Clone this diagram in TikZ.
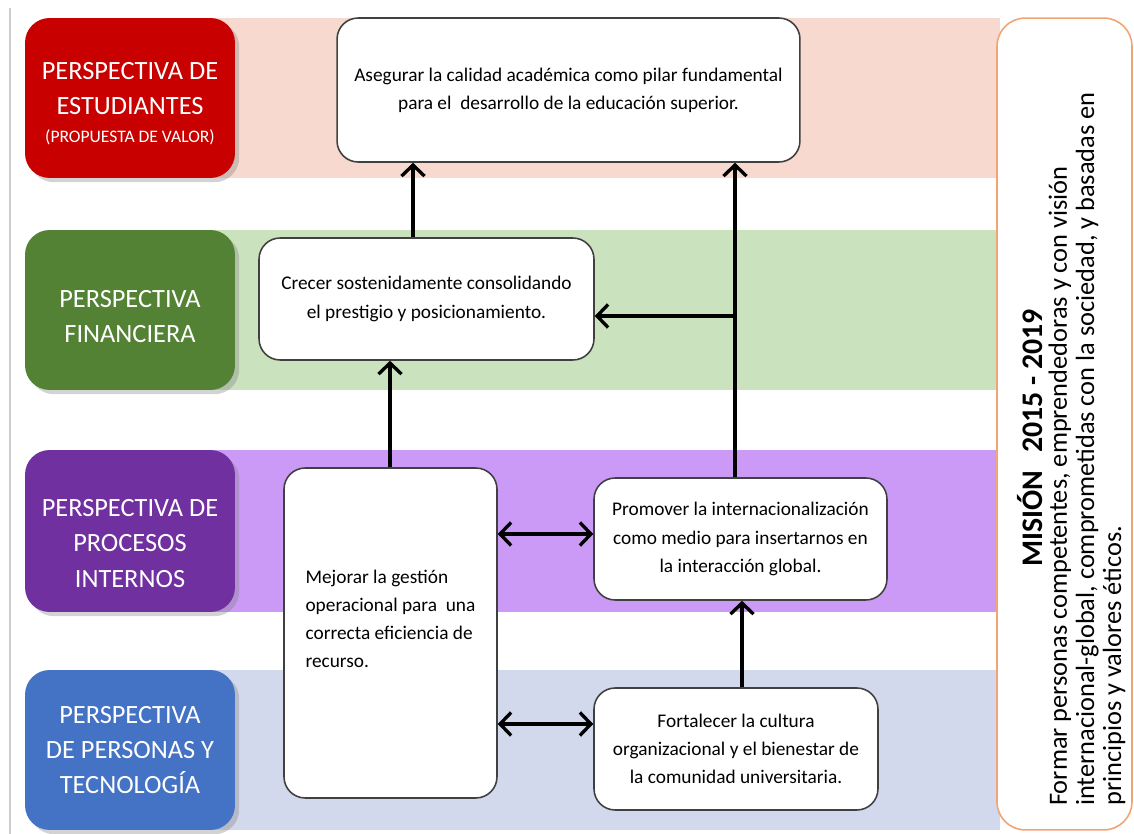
\documentclass[tikz,border=0pt]{standalone}
\usepackage{fontspec}
\setmainfont{Carlito}
\usetikzlibrary{shapes.geometric, arrows.meta, shadows}

\definecolor{estred}{HTML}{C80000}
\definecolor{estgreen}{HTML}{548235}
\definecolor{estpurple}{HTML}{7030A0}
\definecolor{estblue}{HTML}{4472C4}
\definecolor{bandred}{HTML}{F8D9CF}
\definecolor{bandgreen}{HTML}{CAE2BD}
\definecolor{bandpurple}{HTML}{CB9AF7}
\definecolor{bandblue}{HTML}{D3D9EC}
\definecolor{misionline}{HTML}{F2A472}

\tikzstyle{perspective} = [
    rectangle,
    rounded corners=14pt,
    minimum width=4.2cm,
    minimum height=3.2cm,
    text=white,
    align=center,
    font=\fontsize{15}{20}\selectfont,
    drop shadow={opacity=0.35}
]
\tikzstyle{objective} = [
    rectangle,
    rounded corners=12pt,
    draw=black!75,
    fill=white,
    line width=0.9pt,
    align=center,
    font=\fontsize{11}{16}\selectfont
]
\tikzstyle{missionbox} = [
    rectangle,
    rounded corners=16pt,
    draw=misionline,
    fill=white,
    line width=0.9pt,
    minimum width=2.7cm,
    minimum height=16.24cm
]
\tikzstyle{arrow} = [line width=1.9pt,->,>={Straight Barb[length=2.2mm,width=4.6mm]}]
\tikzstyle{twoway} = [arrow,<->]

\begin{document}
\begin{tikzpicture}[x=0.02cm, y=-0.02cm]

\useasboundingbox (0,0) rectangle (1134,834);

% page edge
\draw [black!20, line width=0.6pt] (10,8) -- (10,834);

% bands
\fill [bandred] (130,18) rectangle (1000,178);
\fill [bandgreen] (130,230) rectangle (1000,390);
\fill [bandpurple] (130,450) rectangle (1000,612);
\fill [bandblue] (130,670) rectangle (1000,830);

% perspectives
\node (estudiantes) [perspective, fill=estred] at (130,98)
{\rule{0pt}{16pt}PERSPECTIVA DE\\ESTUDIANTES\\[-4pt]{\fontsize{10}{12}\selectfont (PROPUESTA DE VALOR)}};

\node (financiera) [perspective, fill=estgreen] at (130,310)
{\rule{0pt}{17pt}PERSPECTIVA\\FINANCIERA};

\node (procesos) [perspective, fill=estpurple, minimum height=3.24cm] at (130,531)
{\rule{0pt}{24pt}PERSPECTIVA DE\\PROCESOS\\INTERNOS};

\node (personas) [perspective, fill=estblue] at (130,750)
{PERSPECTIVA\\DE PERSONAS Y\\TECNOLOGÍA};

% objectives
\node (calidad) [objective, minimum width=9.26cm, minimum height=2.88cm] at (568.5,90)
{Asegurar la calidad académica como pilar fundamental\\para el\ \ desarrollo de la educación superior.};

\node (crecer) [objective, minimum width=6.7cm, minimum height=2.44cm] at (426.5,299)
{Crecer sostenidamente consolidando\\el prestigio y posicionamiento.};

\node (mejorar) [objective, align=left, minimum width=4.26cm, minimum height=6.6cm, text depth=16pt] at (390.5,633)
{Mejorar la gestión\\operacional para\ \ una\\correcta eficiencia de\\recurso.};

\node (promover) [objective, minimum width=5.86cm, minimum height=2.44cm] at (740.5,539)
{Promover la internacionalización\\como medio para insertarnos en\\la interacción global.};

\node (fortalecer) [objective, minimum width=5.68cm, minimum height=2.44cm] at (736,749)
{Fortalecer la cultura\\organizacional y el bienestar de\\la comunidad universitaria.};

% mission
\node (mision) [missionbox] at (1064.5,424) {};

\node (misiontitle) [rotate=90, font=\bfseries\fontsize{17}{18}\selectfont] at (1030,438)
{MISIÓN\hspace{0.6em}2015 - 2019};

\node (misiontext) [rotate=90, anchor=west, align=left, font=\fontsize{15}{15.4}\selectfont] at (1087,812)
{Formar personas competentes, emprendedoras y con visión\\internacional-global, comprometidas con la sociedad, y basadas en\\principios y valores éticos.};

% connectors
\coordinate (colA) at (413,0);
\coordinate (colB) at (735,0);
\coordinate (colC) at (390,0);
\coordinate (colD) at (742,0);
\coordinate (rowA) at (0,534);
\coordinate (rowB) at (0,724);
\coordinate (branch) at (735,316);

\draw [arrow] (crecer.north -| colA) -- (calidad.south -| colA);
\draw [arrow] (promover.north -| colB) -- (calidad.south -| colB);
\draw [arrow] (branch) -- (crecer.east |- branch);
\draw [arrow] (mejorar.north -| colC) -- (crecer.south -| colC);
\draw [twoway] (mejorar.east |- rowA) -- (promover.west |- rowA);
\draw [twoway] (mejorar.east |- rowB) -- (fortalecer.west |- rowB);
\draw [arrow] (fortalecer.north -| colD) -- (promover.south -| colD);

\end{tikzpicture}
\end{document}
